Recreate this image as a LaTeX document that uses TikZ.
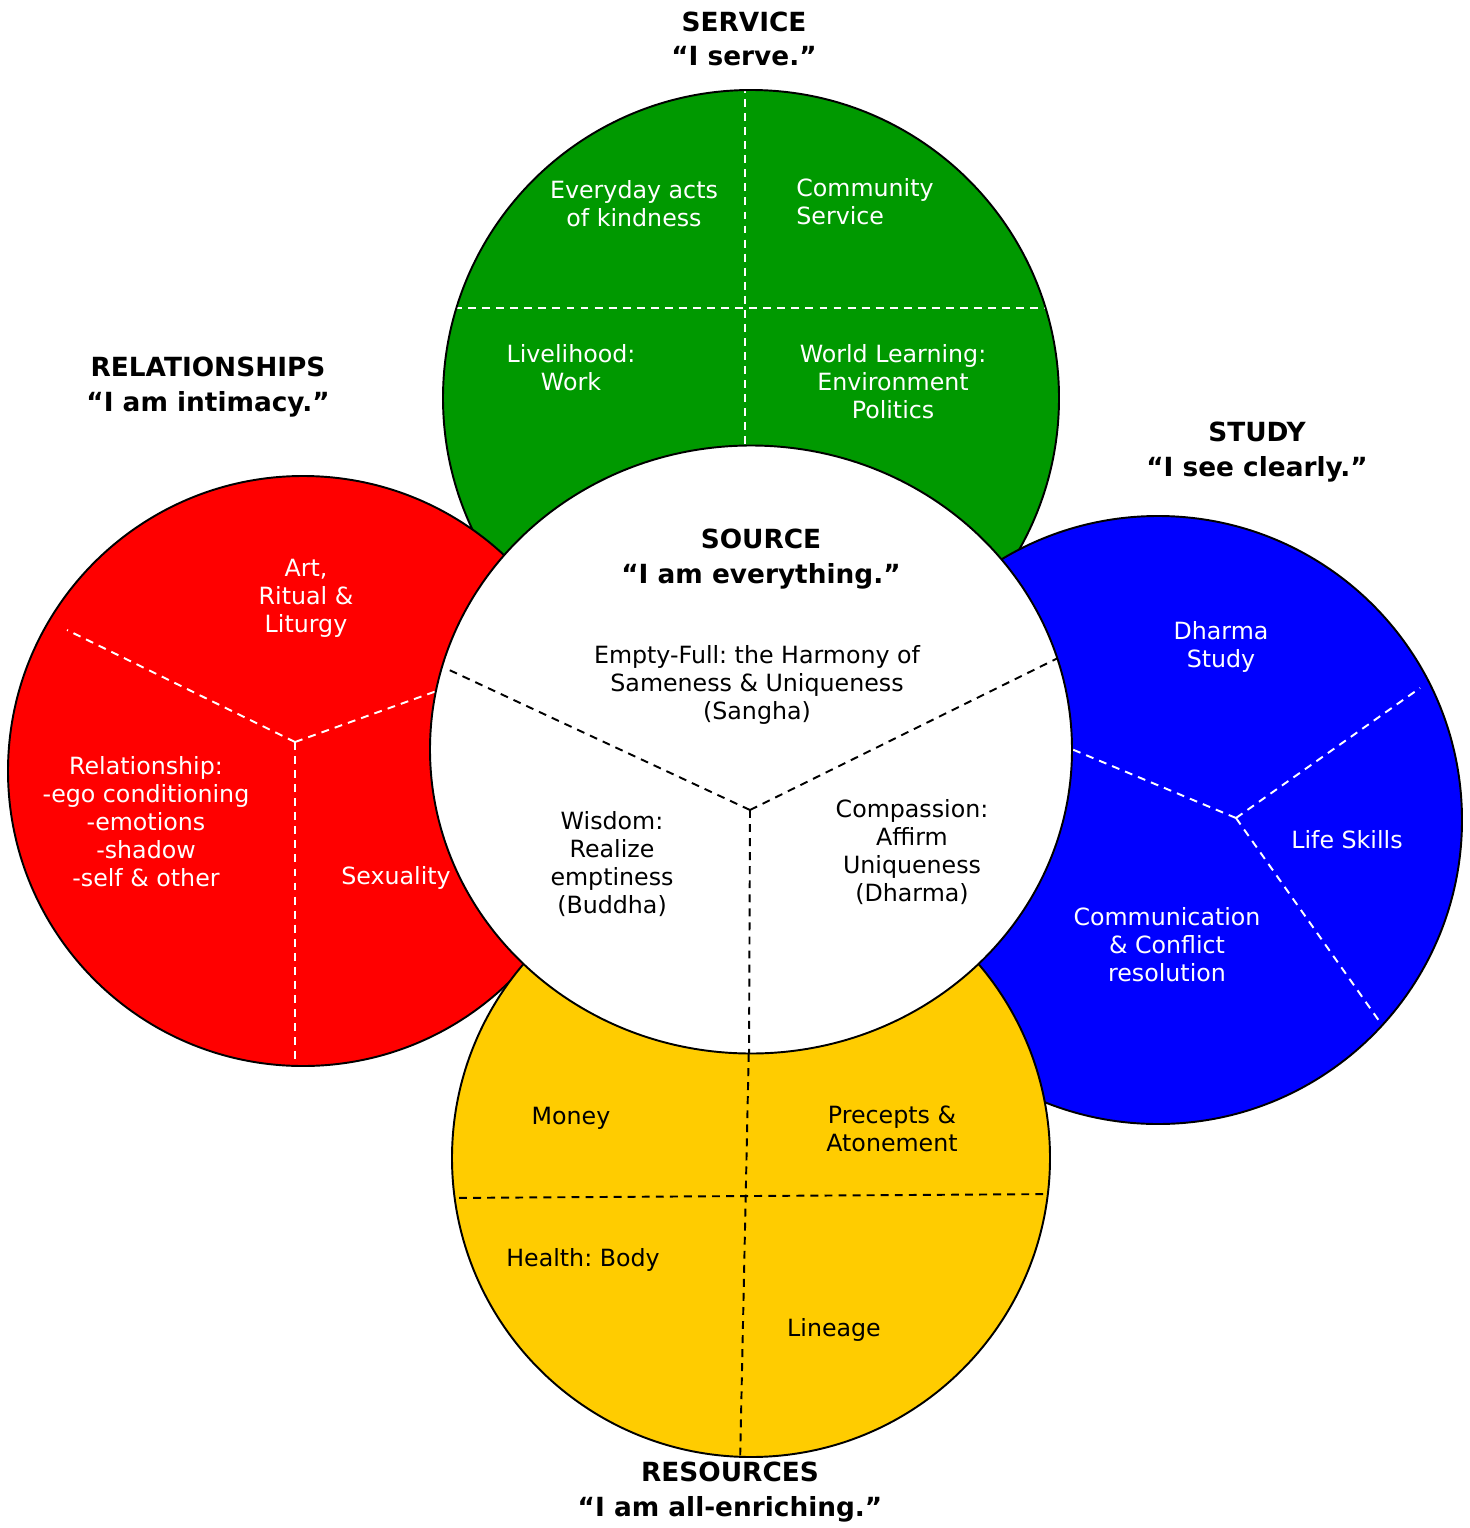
\documentclass[tikz,border=0pt]{standalone}
\usepackage{fontspec}
\setmainfont{DejaVu Sans}
\definecolor{cgreen}{RGB}{0,153,0}
\definecolor{cred}{RGB}{255,0,0}
\definecolor{cblue}{RGB}{0,0,255}
\definecolor{cyellow}{RGB}{255,204,0}
\frenchspacing
\begin{document}
\begin{tikzpicture}[x=0.02cm,y=-0.02cm,
  rim/.style={draw=black,line width=1.1pt},
  wdash/.style={draw=white,line width=1.1pt,dash pattern=on 4.5pt off 3.5pt},
  bdash/.style={draw=black,line width=1.1pt,dash pattern=on 4.5pt off 3.5pt},
  lbl/.style={align=center,font=\fontsize{13.5}{15.9}\selectfont,inner sep=0pt},
  wlbl/.style={lbl,text=white},
  ttl/.style={align=center,font=\bfseries\fontsize{15}{19.6}\selectfont,inner sep=0pt}]
\useasboundingbox (0,0) rectangle (1470,1528);

% green (service)
\fill[cgreen] (751,398) ellipse [x radius=308,y radius=308];
\begin{scope}
  \clip (751,398) ellipse [x radius=308,y radius=308];
  \draw[wdash] (745,85) -- (745,460);
  \draw[wdash] (440,308) -- (1062,308);
\end{scope}
\draw[rim] (751,398) ellipse [x radius=308,y radius=308];

% red (relationships)
\fill[cred] (303,771) ellipse [x radius=295,y radius=295];
\begin{scope}
  \clip (303,771) ellipse [x radius=295,y radius=295];
  \coordinate (rh) at (295,742);
  \draw[wdash] (rh) -- (67,630);
  \draw[wdash] (rh) -- (470,679);
  \draw[wdash] (rh) -- (295,1075);
\end{scope}
\draw[rim] (303,771) ellipse [x radius=295,y radius=295];

% blue (study)
\fill[cblue] (1158,820) ellipse [x radius=304,y radius=304];
\begin{scope}
  \clip (1158,820) ellipse [x radius=304,y radius=304];
  \coordinate (bh) at (1236,818);
  \draw[wdash] (bh) -- (1420,688);
  \draw[wdash] (bh) -- (1050,740);
  \draw[wdash] (bh) -- (1382,1025);
\end{scope}
\draw[rim] (1158,820) ellipse [x radius=304,y radius=304];

% yellow (resources)
\fill[cyellow] (751,1158) ellipse [x radius=299,y radius=299];
\begin{scope}
  \clip (751,1158) ellipse [x radius=299,y radius=299];
  \draw[bdash] (749,1040) -- (740,1465);
  \draw[bdash] (445,1198) -- (1060,1194);
\end{scope}
\draw[rim] (751,1158) ellipse [x radius=299,y radius=299];

% white (source)
\fill[white] (751,749.5) ellipse [x radius=321,y radius=304];
\begin{scope}
  \clip (751,749.5) ellipse [x radius=321,y radius=304];
  \coordinate (wh) at (750,810);
  \draw[bdash] (wh) -- (445,668);
  \draw[bdash] (wh) -- (1058,658);
  \draw[bdash] (wh) -- (749,1060);
\end{scope}
\draw[rim] (751,749.5) ellipse [x radius=321,y radius=304];

% titles
\node[ttl] (tserv) at (744,39) {SERVICE\\“I serve.”};
\node[ttl] (trel) at (208,387) {RELATIONSHIPS\\“I am intimacy.”};
\node[ttl] (tstudy) at (1257,452) {STUDY\\“I see clearly.”};
\node[ttl] (tsrc) at (761,559) {SOURCE\\“I am everything.”};
\node[ttl] (tres) at (730,1492) {RESOURCES\\“I am all-enriching.”};

% green labels
\node[wlbl] (g1) at (634,204) {Everyday acts\\of kindness};
\node[wlbl,align=left,anchor=west] (g2) at (796,202) {Community\\Service};
\node[wlbl] (g3) at (571,368) {Livelihood:\\Work};
\node[wlbl] (g4) at (893,382) {World Learning:\\Environment\\Politics};

% red labels
\node[wlbl] (r1) at (306,598) {Art,\\Ritual \&\\Liturgy};
\node[wlbl] (r2) at (146,822) {Relationship:\\-ego conditioning\\-emotions\\-shadow\\-self \& other};
\node[wlbl] (r3) at (396,878) {Sexuality};

% blue labels
\node[wlbl] (b1) at (1221,647) {Dharma\\Study};
\node[wlbl] (b2) at (1347,840) {Life Skills};
\node[wlbl] (b3) at (1167,945) {Communication\\\& Conflict\\resolution};

% white labels
\node[lbl] (w1) at (757,685) {Empty-Full: the Harmony of\\Sameness \& Uniqueness\\(Sangha)};
\node[lbl] (w2) at (612,864) {Wisdom:\\Realize\\emptiness\\(Buddha)};
\node[lbl] (w3) at (912,852) {Compassion:\\Affirm\\Uniqueness\\(Dharma)};

% yellow labels
\node[lbl] (y1) at (571,1118) {Money};
\node[lbl] (y2) at (892,1129) {Precepts \&\\Atonement};
\node[lbl] (y3) at (583,1260) {Health: Body};
\node[lbl] (y4) at (834,1330) {Lineage};
\end{tikzpicture}
\end{document}
